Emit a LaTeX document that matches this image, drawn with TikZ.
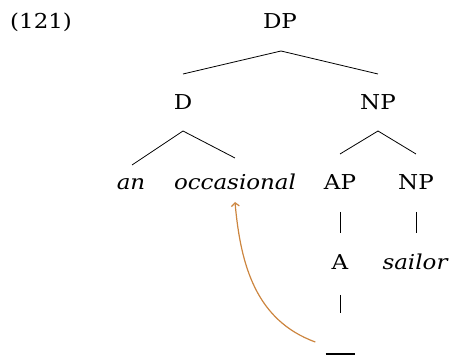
\documentclass[tikz,border=0pt]{standalone}
\usepackage{fontspec}
\setmainfont[FakeStretch=1.12]{DejaVu Serif}
\usetikzlibrary{calc,arrows.meta}
\definecolor{movecol}{RGB}{204,133,63}
\begin{document}
\begin{tikzpicture}[x=1pt,y=1pt,
  lab/.style={font=\fontsize{20.5}{24}\selectfont, inner sep=0pt, anchor=base},
  branch/.style={line width=0.8pt},
  movearrow/.style={movecol, line width=1.2pt, -{Straight Barb[length=3.5pt,width=8pt]}}]
\useasboundingbox (0,0) rectangle (451,358);
\node[lab, anchor=base west] (ex) at (10,329.5) {(121)};
\node[lab] (DP) at (280,329.5) {DP};
\node[lab] (D) at (183,248) {D};
\node[lab] (NP) at (378,248) {NP};
\node[lab] (an) at (131,168) {\itshape an};
\node[lab] (occ) at (235,168) {\itshape occasional};
\node[lab] (AP) at (340,168) {AP};
\node[lab] (NPb) at (416,168) {NP};
\node[lab] (A) at (340,88) {A};
\node[lab] (sailor) at (415,88) {\itshape sailor};
\node[inner sep=0pt, anchor=center] (t) at (340,4) {\rule{29pt}{1.5pt}};
\draw[branch] ($(DP.base)+(1,-22.5)$) -- ($(D.base)+(0,36)$);
\draw[branch] ($(DP.base)+(1,-22.5)$) -- ($(NP.base)+(0,36)$);
\draw[branch] ($(D.base)+(0,-21)$) -- ($(an.base)+(1,25)$);
\draw[branch] ($(D.base)+(0,-21)$) -- ($(occ.base)+(0,32)$);
\draw[branch] ($(NP.base)+(0,-21)$) -- ($(AP.base)+(0,36)$);
\draw[branch] ($(NP.base)+(0,-21)$) -- ($(NPb.base)+(0,36)$);
\draw[branch] ($(AP.base)+(0,-22)$) -- ($(A.base)+(0,37)$);
\draw[branch] ($(NPb.base)+(0,-22)$) -- ($(sailor.base)+(1,37)$);
\draw[branch] ($(A.base)+(0,-25)$) -- ($(t.center)+(0,41)$);
\draw[movearrow] ($(t.west)+(-10,12)$) to[out=160,in=-85] ($(occ.base)+(0,-12)$);
\end{tikzpicture}
\end{document}
